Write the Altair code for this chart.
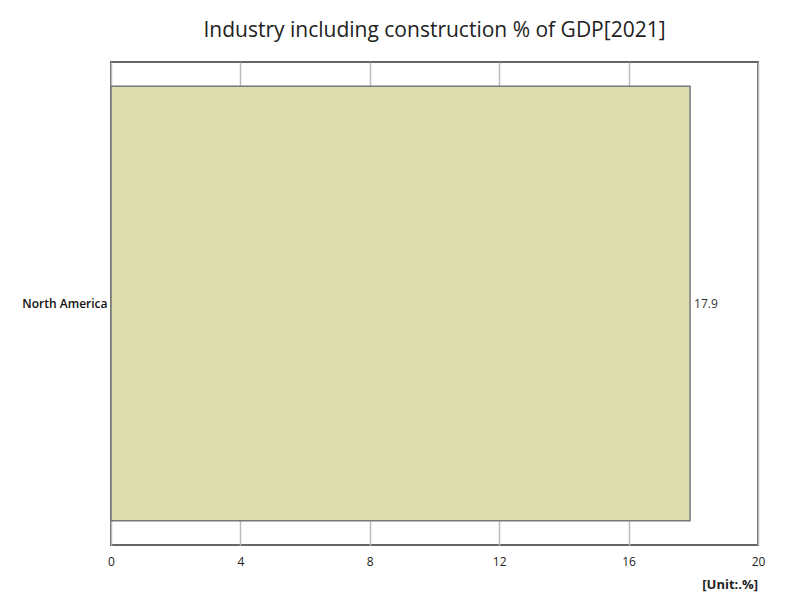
import altair as alt
import pandas as pd

regions = ['North America']
values = [17.9]
x_ticks = [0, 4, 8, 12, 16, 20]

data = pd.DataFrame({'region': regions, 'value': values})
FONT = 'Open Sans'

base = alt.Chart(data).encode(
	y=alt.Y('region:N', title=None,
			scale=alt.Scale(paddingInner=0.1, paddingOuter=0.05),
			axis=alt.Axis(ticks=False, domain=False, labelFontSize=12, labelFont=FONT,
						  labelColor='#111', labelPadding=4, labelFontWeight=600))
)

bars = base.mark_bar(color='#dedeb0', stroke='#777777', strokeWidth=1.5).encode(
	x=alt.X('value:Q', title=None,
			scale=alt.Scale(domain=[0, 20], nice=False),
			axis=alt.Axis(values=x_ticks, grid=True, gridColor='#bbbbbb', gridWidth=1.5,
						  ticks=False, domain=False, labelFontSize=12, labelFont=FONT,
						  labelColor='#222', labelPadding=11, labelFlush=False))
)

text = base.mark_text(align='left', dx=4, fontSize=12, font=FONT, color='#333').encode(
	x='value:Q',
	text=alt.Text('value:Q', format='.1f')
)

unit = alt.Chart(pd.DataFrame({'u': ['[Unit:.%]']})).mark_text(
	align='right', baseline='middle', fontSize=13, font=FONT, fontWeight='bold', color='#222'
).encode(x=alt.value(647), y=alt.value(523), text='u:N')

chart = (bars + text + unit).properties(
	width=647,
	height=483,
	background='white',
	autosize=alt.AutoSizeParams(type='none'),
	padding={'left': 103, 'top': 54, 'right': 34, 'bottom': 55},
	title=alt.Title('Industry including construction % of GDP[2021]', fontSize=21,
					font=FONT, fontWeight='normal', color='#222', anchor='middle', offset=21)
).configure_view(stroke='#666666', strokeWidth=2)

chart.save('out.html', embed_options={'renderer': 'svg', 'actions': False})
